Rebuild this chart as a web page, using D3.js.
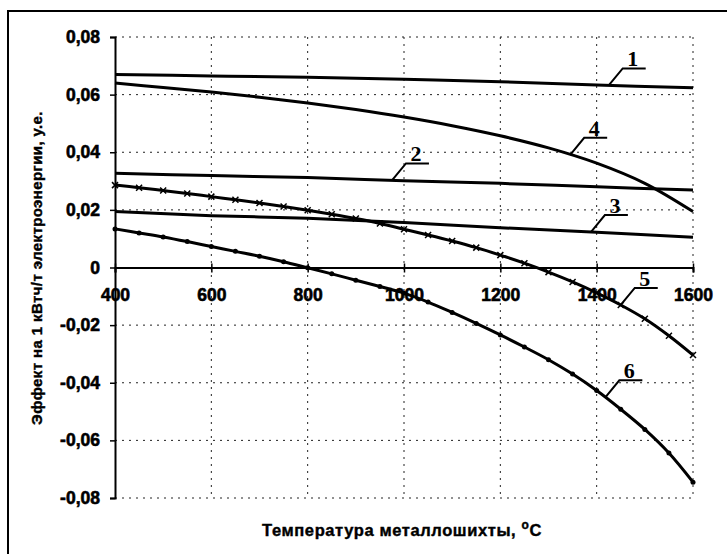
<!DOCTYPE html>
<html><head><meta charset="utf-8">
<script src="https://cdn.jsdelivr.net/npm/d3@7"></script>
<style>body{margin:0;background:#fff}</style>
</head><body>
<svg id="c" width="727" height="554"></svg>
<script>
const xTicks = [400, 600, 800, 1000, 1200, 1400, 1600];
const yTicks = [-0.08, -0.06, -0.04, -0.02, 0, 0.02, 0.04, 0.06, 0.08];
const yTickLabels = ["-0,08", "-0,06", "-0,04", "-0,02", "0", "0,02", "0,04", "0,06", "0,08"];
const xTitle = "Температура металлошихты,";
const yTitle = "Эффект на 1 кВтч/т электроэнергии, у.е.";

const t100 = [400, 600, 800, 1000, 1200, 1400, 1600];
const t100b = [400, 500, 600, 700, 800, 900, 1000, 1100, 1200, 1300, 1400, 1500, 1600];
const t50 = [400,450,500,550,600,650,700,750,800,850,900,950,1000,1050,1100,1150,1200,1250,1300,1350,1400,1450,1500,1550,1600];

const s1 = [0.0670, 0.0665, 0.0660, 0.0653, 0.0645, 0.0633, 0.0624];
const s2 = [0.0327, 0.0319, 0.0312, 0.0301, 0.0292, 0.0280, 0.0269];
const s3 = [0.0194, 0.0180, 0.0171, 0.0156, 0.0138, 0.0122, 0.0105];
const s4 = [0.0640, 0.0625, 0.0609, 0.0591, 0.0571, 0.0548, 0.0522, 0.0492, 0.0457, 0.0415, 0.0362, 0.0292, 0.0194];
const s5 = [0.0286, 0.0277, 0.0267, 0.0257, 0.0246, 0.0235, 0.0224, 0.0212, 0.0199, 0.0185, 0.0170, 0.0153, 0.0133,
            0.0113, 0.0092, 0.0069, 0.0043, 0.0015, -0.0016, -0.0050, -0.0088, -0.0130, -0.0178, -0.0237, -0.0304];
const s6 = [0.0134, 0.0120, 0.0106, 0.0090, 0.0073, 0.0056, 0.0039, 0.0020, -0.0001, -0.0022, -0.0044, -0.0066, -0.0089,
            -0.0120, -0.0156, -0.0194, -0.0234, -0.0276, -0.0320, -0.0370, -0.0427, -0.0492, -0.0562, -0.0644, -0.0745];

const seriesLabels = ["1", "2", "3", "4", "5", "6"];
const labelAt = [1425, 975, 1388, 1345, 1450, 1418];

const svg = d3.select("#c");
const L = 115, R = 693, T = 37, B = 498;
const x = d3.scaleLinear().domain([400, 1600]).range([L, R]);
const y = d3.scaleLinear().domain([-0.08, 0.08]).range([B, T]);
const sans = "Liberation Sans, Arial, sans-serif";

// outer frame
svg.append("rect").attr("x", 8).attr("y", 11).attr("width", 760).attr("height", 600)
  .attr("fill", "none").attr("stroke", "#000").attr("stroke-width", 2);

// grid
const g = svg.append("g");
yTicks.forEach(v => {
  if (v === 0) return;
  g.append("line").attr("x1", L).attr("x2", R).attr("y1", y(v)).attr("y2", y(v))
    .attr("stroke", "#222").attr("stroke-width", 1).attr("stroke-dasharray", "2,5");
});
xTicks.forEach(v => {
  if (v === 400) return;
  g.append("line").attr("x1", x(v)).attr("x2", x(v)).attr("y1", T).attr("y2", B)
    .attr("stroke", "#222").attr("stroke-width", 1).attr("stroke-dasharray", "2,5");
});

// y axis
const yAxis = d3.axisLeft(y).tickValues(yTicks).tickSize(5).tickFormat((d, i) => yTickLabels[i]);
const ya = svg.append("g").attr("transform", `translate(${L},0)`).call(yAxis);
ya.select(".domain").attr("stroke", "#000").attr("stroke-width", 2);
ya.selectAll(".tick line").attr("stroke", "#000").attr("stroke-width", 1.5);
ya.selectAll(".tick text").attr("x", -15).attr("font-family", sans)
  .attr("font-weight", "bold").attr("font-size", 17.5).attr("fill", "#000")
  .attr("stroke", "#000").attr("stroke-width", 0.6);

// x axis at y=0
const xAxis = d3.axisBottom(x).tickValues(xTicks).tickSize(5).tickFormat(d3.format("d"));
const xa = svg.append("g").attr("transform", `translate(0,${y(0)})`).call(xAxis);
xa.select(".domain").attr("stroke", "#000").attr("stroke-width", 2);
xa.selectAll(".tick line").attr("stroke", "#000").attr("stroke-width", 1.5).attr("y1", -4);
xa.selectAll(".tick text").attr("y", 21).attr("font-family", sans)
  .attr("font-weight", "bold").attr("font-size", 17.5).attr("fill", "#000")
  .attr("stroke", "#000").attr("stroke-width", 0.6);

// curves
const lines = [
  {t: t100, v: s1}, {t: t100, v: s2}, {t: t100, v: s3},
  {t: t100b, v: s4}, {t: t50, v: s5}, {t: t50, v: s6}
];
const line = d3.line().x(d => x(d[0])).y(d => y(d[1])).curve(d3.curveCatmullRom.alpha(0.5));
lines.forEach((s, i) => {
  const pts = s.t.map((t, k) => [t, s.v[k]]);
  svg.append("path").attr("d", line(pts)).attr("fill", "none")
    .attr("stroke", "#000").attr("stroke-width", 3);
  if (i === 5) {
    svg.append("g").selectAll("circle").data(pts).join("circle")
      .attr("cx", d => x(d[0])).attr("cy", d => y(d[1])).attr("r", 2.5).attr("fill", "#000");
  }
  if (i === 4) {
    const m = svg.append("g");
    pts.forEach(d => {
      const cx = x(d[0]), cy = y(d[1]);
      m.append("path").attr("d", `M${cx-3},${cy-3}L${cx+3},${cy+3}M${cx-3},${cy+3}L${cx+3},${cy-3}`)
        .attr("stroke", "#000").attr("stroke-width", 1.5);
    });
  }
  const tt = labelAt[i];
  const vv = d3.scaleLinear().domain(s.t).range(s.v)(tt);
  const px = x(tt), py = y(vv);
  const ex = px + 14, ey = py - 17;
  svg.append("path").attr("d", `M${px},${py}L${ex},${ey}L${ex + 23},${ey}`)
    .attr("fill", "none").attr("stroke", "#000").attr("stroke-width", 2);
  svg.append("text").attr("x", ex + 10).attr("y", ey - 2).attr("text-anchor", "middle")
    .attr("font-family", "Liberation Serif, Times New Roman, serif").attr("font-weight", "bold")
    .attr("font-size", 22).text(seriesLabels[i]);
});

// titles
const xt = svg.append("text").attr("x", 402).attr("y", 536).attr("text-anchor", "middle")
  .attr("font-family", sans).attr("font-weight", "bold").attr("font-size", 16.5)
  .attr("stroke", "#000").attr("stroke-width", 0.4).attr("letter-spacing", 0.6);
xt.append("tspan").text(xTitle + " ");
xt.append("tspan").attr("dy", -7).attr("font-size", 12).text("o");
xt.append("tspan").attr("dy", 7).text("C");

svg.append("text").attr("transform", "translate(42,268) rotate(-90)").attr("text-anchor", "middle")
  .attr("font-family", sans).attr("font-weight", "bold").attr("font-size", 15)
  .attr("stroke", "#000").attr("stroke-width", 0.4).attr("letter-spacing", 0.4)
  .text(yTitle);
</script>
</body></html>
